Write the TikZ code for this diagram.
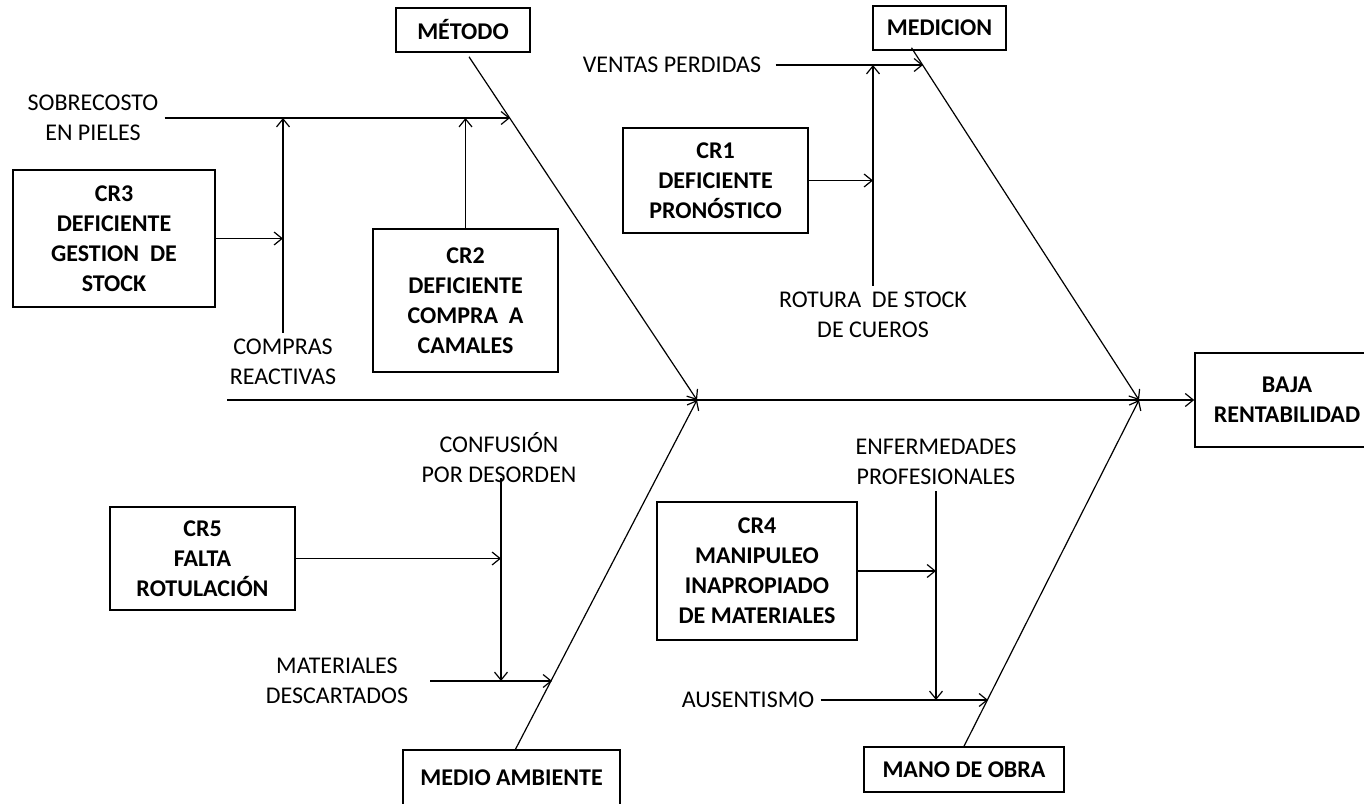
\documentclass[tikz,border=0pt]{standalone}
\usepackage{fontspec}
\setmainfont{Carlito}
\usetikzlibrary{arrows.meta,positioning}

\tikzset{
  cause/.style={draw, line width=.8pt, align=center, inner sep=0pt,
    font=\bfseries\fontsize{12}{15}\selectfont},
  lbl/.style={align=center, inner sep=3pt, font=\fontsize{12}{15}\selectfont},
  arr/.style={line width=.6pt, -{Straight Barb[length=4pt,width=6.5pt]}},
}

\begin{document}
\begin{tikzpicture}[x=.5pt, y=-.5pt]
  \useasboundingbox (0,0) rectangle (1364,803);
  \clip (0,0) rectangle (1364,803);

  % Effect and the four categories.
  \node[cause, minimum width=92pt, minimum height=47pt] (baja) at (1287,400) {BAJA\\RENTABILIDAD};
  \node[cause, minimum width=67pt, minimum height=22pt] (metodo) at (463,30) {MÉTODO};
  \node[cause, minimum width=66.5pt, minimum height=22pt] (medicion) at (939.5,28) {MEDICION};
  \node[cause, minimum width=108.5pt, minimum height=28pt] (medio) at (511.5,778) {MEDIO AMBIENTE};
  \node[cause, minimum width=100pt, minimum height=22.5pt] (mano) at (964,769.5) {MANO DE OBRA};

  % Root causes.
  \node[cause, minimum width=101pt, minimum height=68.5pt] (cr3) at (114,238.5) {CR3\\DEFICIENTE\\GESTION~ DE\\STOCK};
  \node[cause, minimum width=92.5pt, minimum height=71.5pt] (cr2) at (465.5,300.5) {CR2\\DEFICIENTE\\COMPRA~ A\\CAMALES};
  \node[cause, minimum width=92.5pt, minimum height=52.5pt] (cr1) at (715.5,180.5) {CR1\\DEFICIENTE\\PRONÓSTICO};
  \node[cause, minimum width=92.5pt, minimum height=51.5pt] (cr5) at (202.5,558.5) {CR5\\FALTA\\ROTULACIÓN};
  \node[cause, minimum width=100pt, minimum height=69pt] (cr4) at (757,571) {CR4\\MANIPULEO\\INAPROPIADO\\DE MATERIALES};

  % Spine and main bones.
  \coordinate (sp0) at (227,400);
  \coordinate (j1) at (697,400);
  \coordinate (j2) at (1139,400);
  \draw[line width=.7pt] (sp0) -- (j2);
  \draw[arr] (j2) -- (baja.west);
  \draw[arr] ([xshift=3pt,yshift=-2pt]metodo.south) -- (j1);
  \draw[arr] ([xshift=-14pt,yshift=1.5pt]medicion.south) -- (j2);
  \draw[arr] ([xshift=2pt]medio.north) -- (j1);
  \draw[arr] (mano.north) -- (j2);

  % Metodo branch.
  \node[lbl] (sobre) at (93,118) {SOBRECOSTO\\EN PIELES};
  \node[lbl] (compras) at (283,362) {COMPRAS\\REACTIVAS};
  \coordinate (a2) at (510,118);
  \draw[arr] (sobre.east) -- (a2);
  \draw[arr] (compras.north) -- (compras.north |- a2);
  \draw[arr] (cr3.east) -- (cr3.east -| compras.north);
  \draw[arr] (cr2.north) -- (cr2.north |- a2);

  % Medicion branch.
  \node[lbl] (ventas) at (672,65) {VENTAS PERDIDAS};
  \node[lbl] (rotura) at (873,315) {ROTURA~ DE STOCK\\DE CUEROS};
  \coordinate (v2) at (923,65);
  \draw[arr] ([xshift=4pt]ventas.east) -- (v2);
  \draw[arr] (rotura.north) -- (rotura.north |- v2);
  \draw[arr] (cr1.east) -- (cr1.east -| rotura.north);

  % Medio ambiente branch.
  \node[lbl] (confus) at (499,458) {CONFUSIÓN\\POR DESORDEN};
  \node[lbl] (mater) at (337,681) {MATERIALES\\DESCARTADOS};
  \coordinate (c1) at (501,478);
  \coordinate (c2) at (552,681);
  \draw[arr] (c1) -- (c1 |- c2);
  \draw[arr] ([xshift=8pt]mater.east) -- (c2);
  \draw[arr] (cr5.east) -- (cr5.east -| c1);

  % Mano de obra branch.
  \node[lbl] (enferm) at (936,462) {ENFERMEDADES\\PROFESIONALES};
  \node[lbl] (ausent) at (748,700) {AUSENTISMO};
  \coordinate (d2) at (988,700);
  \draw[arr] (enferm.south) -- (enferm.south |- d2);
  \draw[arr] (ausent.east) -- (d2);
  \draw[arr] (cr4.east) -- (cr4.east -| enferm.south);
\end{tikzpicture}
\end{document}
